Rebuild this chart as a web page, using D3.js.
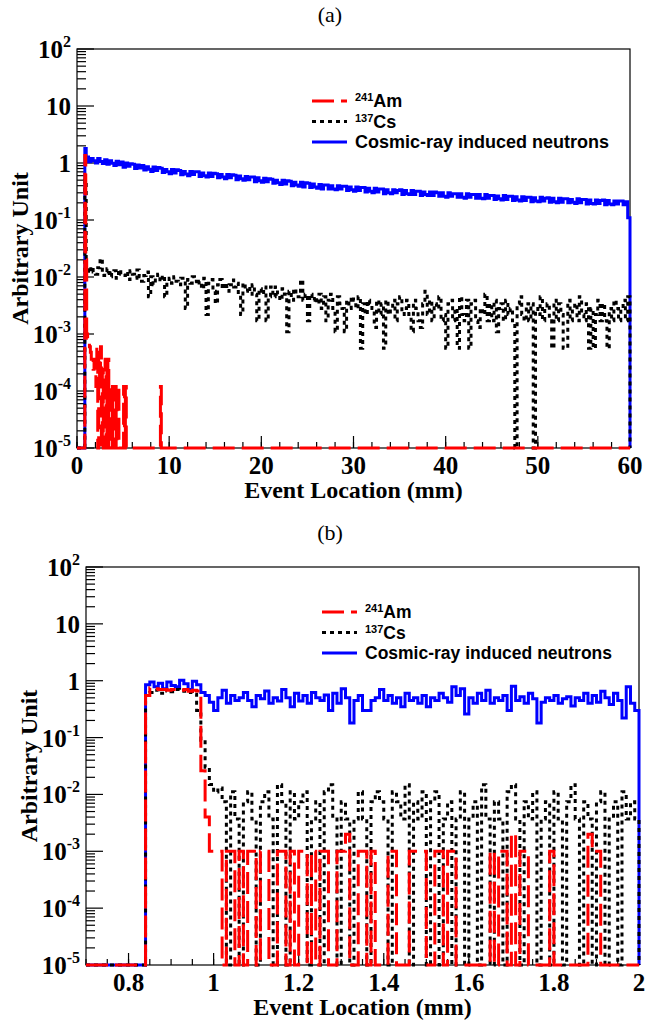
<!DOCTYPE html>
<html><head><meta charset="utf-8">
<script src="https://cdn.jsdelivr.net/npm/d3@7"></script>
<style>body{margin:0;background:#fff}svg{display:block}</style>
</head><body>
<svg id="chart" width="658" height="1021"></svg>
<script>
// ---------------- DATA ----------------
// Panel (a): 0 - 60 mm
const topBlueEdges = [0.85].concat(d3.range(1, 60.0001, 0.25));
const topBlueVals = [1.8,
 1.27,1.05,1.2,1.1, 1.0,1.2,1.06,0.98, 1.14,0.95,1.1,0.99, 0.9,1.07,0.93,1.04,
 0.84,1.0,0.88,0.97, 0.95,0.8,0.92,0.82, 0.9,0.75,0.86,0.78, 0.71,0.85,0.74,0.83,
 0.81,0.68,0.77,0.7, 0.65,0.77,0.67,0.76, 0.74,0.62,0.71,0.64, 0.6,0.71,0.63,0.7,
 0.7,0.58,0.67,0.6, 0.57,0.67,0.58,0.66, 0.65,0.55,0.63,0.57, 0.53,0.63,0.55,0.62,
 0.61,0.51,0.59,0.53, 0.5,0.58,0.51,0.57, 0.57,0.47,0.55,0.49, 0.46,0.54,0.47,0.53,
 0.52,0.44,0.5,0.45, 0.42,0.5,0.43,0.49, 0.48,0.4,0.46,0.41, 0.39,0.46,0.38,0.45,
 0.44,0.37,0.43,0.38, 0.36,0.42,0.35,0.41, 0.41,0.35,0.4,0.35, 0.34,0.4,0.35,0.39,
 0.39,0.33,0.38,0.34, 0.32,0.38,0.33,0.37, 0.37,0.31,0.36,0.32, 0.3,0.36,0.31,0.35,
 0.35,0.29,0.34,0.3, 0.29,0.34,0.3,0.33, 0.34,0.28,0.33,0.29, 0.28,0.33,0.28,0.32,
 0.32,0.27,0.31,0.28, 0.27,0.31,0.27,0.31, 0.3,0.26,0.3,0.26, 0.25,0.3,0.26,0.29,
 0.29,0.25,0.29,0.25, 0.24,0.29,0.25,0.28, 0.28,0.24,0.28,0.24, 0.235,0.28,0.24,0.27,
 0.27,0.23,0.265,0.235, 0.225,0.27,0.23,0.26, 0.26,0.22,0.255,0.225, 0.215,0.255,0.22,0.25,
 0.25,0.21,0.245,0.215, 0.21,0.25,0.215,0.24, 0.245,0.205,0.24,0.21, 0.2,0.24,0.205,0.235,
 0.235,0.2,0.23,0.205, 0.195,0.235,0.2,0.23, 0.23,0.19,0.225,0.195, 0.19,0.225,0.195,0.22,
 0.225,0.185,0.22,0.19, 0.185,0.215,0.19,0.215, 0.215,0.185,0.21,0.11];

const topBlackEdges = [0.85].concat(d3.range(1, 60.0001, 0.25));
const topBlackVals = [0.5,
 13.4e-3,11.8e-3,15.1e-3,12.3e-3,  11.2e-3,14.6e-3,21.0e-3,10.6e-3,
 12.3e-3,14.0e-3,10.1e-3,11.8e-3,  12.9e-3,9.5e-3,13.4e-3,11.2e-3,
 10.6e-3,12.3e-3,9.0e-3,12.9e-3,   11.2e-3,9.5e-3,13.3e-3,10.1e-3,
 8.4e-3,10.6e-3,12.3e-3,4.5e-3,    10.1e-3,7.3e-3,9.5e-3,11.2e-3,
 8.4e-3,10.6e-3,4.5e-3,9.0e-3,     9.5e-3,7.8e-3,10.1e-3,8.4e-3,
 7.3e-3,9.5e-3,8.4e-3,2.8e-3,      9.0e-3,7.8e-3,10.1e-3,8.4e-3,
 7.3e-3,8.4e-3,6.2e-3,9.5e-3,      2.2e-3,7.8e-3,9.0e-3,5.6e-3,
 3.4e-3,7.3e-3,9.0e-3,6.2e-3,      7.8e-3,5.6e-3,7.3e-3,8.9e-3,
 6.7e-3,7.8e-3,5.0e-3,2.2e-3,      7.8e-3,5.6e-3,6.7e-3,5.0e-3,
 7.3e-3,5.0e-3,1.7e-3,6.2e-3,      5.0e-3,6.7e-3,1.7e-3,4.5e-3,
 6.7e-3,4.5e-3,6.7e-3,5.0e-3,      3.9e-3,6.2e-3,5.0e-3,1.1e-3,
 5.6e-3,3.9e-3,6.2e-3,4.5e-3,      4.5e-3,8.9e-3,3.9e-3,5.0e-3,
 1.7e-3,5.0e-3,3.9e-3,4.5e-3,      3.4e-3,5.0e-3,2.8e-3,4.5e-3,
 1.7e-3,3.9e-3,5.0e-3,2.8e-3,      1.1e-3,4.5e-3,3.4e-3,2.8e-3,
 1.1e-3,3.9e-3,2.8e-3,4.5e-3,      3.9e-3,2.8e-3,4.5e-3,0.56e-3,
 3.4e-3,2.2e-3,3.9e-3,3.4e-3,      2.8e-3,1.3e-3,3.9e-3,2.2e-3,
 3.4e-3,0.56e-3,3.9e-3,2.2e-3,     2.8e-3,3.9e-3,1.7e-3,3.4e-3,
 4.5e-3,2.2e-3,2.8e-3,3.9e-3,      2.2e-3,1.1e-3,3.9e-3,2.8e-3,
 1.7e-3,1.3e-3,3.4e-3,5.6e-3,      2.2e-3,3.9e-3,1.7e-3,3.4e-3,
 2.8e-3,4.5e-3,1.7e-3,2.2e-3,      0.56e-3,3.4e-3,3.9e-3,1.7e-3,
 2.8e-3,0.56e-3,4.5e-3,2.2e-3,     1.7e-3,3.9e-3,0.56e-3,3.4e-3,
 3.9e-3,1.7e-3,1.3e-3,2.8e-3,      2.2e-3,5.0e-3,1.7e-3,3.4e-3,
 1.7e-3,3.9e-3,1.1e-3,2.8e-3,      3.4e-3,1.7e-3,3.9e-3,2.2e-3,
 2.8e-3,1.7e-3,0,3.4e-3,           4.5e-3,2.2e-3,1.7e-3,3.4e-3,
 1.7e-3,3.4e-3,0,2.8e-3,           2.2e-3,4.5e-3,1.7e-3,2.8e-3,
 3.4e-3,1.7e-3,0.56e-3,3.9e-3,     1.7e-3,3.4e-3,2.2e-3,0.56e-3,
 0.56e-3,3.9e-3,1.7e-3,2.8e-3,     3.4e-3,1.7e-3,4.5e-3,2.2e-3,
 1.7e-3,3.4e-3,0.56e-3,2.8e-3,     0.56e-3,2.2e-3,3.9e-3,1.7e-3,
 3.4e-3,1.7e-3,0.56e-3,2.8e-3,     1.7e-3,3.9e-3,2.8e-3,1.7e-3,
 2.8e-3,3.9e-3,1.7e-3,4.5e-3];

const topRedEdges = d3.range(0.85, 9.2, 0.1);
const topRedVals = [1.35,0.02,1.0e-3,8.4e-4,7.2e-4,6.0e-4,4.8e-4,3.6e-4,3.6e-4,2.4e-4,
 3.6e-4,2.4e-4,1.2e-4,6.0e-4,0,4.8e-4,1.2e-4,6.0e-4,0,2.4e-4,
 0,1.2e-4,3.6e-4,0,2.4e-4,3.6e-4,0,1.2e-4,1.2e-4,0,
 1.2e-4,0,1.2e-4,1.2e-4,0,1.2e-4,1.2e-4,0,0,0,
 0,0,1.2e-4,0,1.2e-4,0,0,0,0,0,
 0,0,0,0,0,0,0,0,0,0,
 0,0,0,0,0,0,0,0,0,0,
 0,0,0,0,0,0,0,0,0,0,
 0,0,1.2e-4];

// Panel (b): 0.7 - 2 mm, 0.01 mm bins from 0.84
const botEdges = d3.range(0.84, 2.0001, 0.01);
const botBlueVals = [0.85,0.95,0.78,0.9,0.72,0.95,0.82,0.78,1.02,0.88,0.7,0.98,0.85,0.62,
 0.55,0.42,0.3,0.5,0.68,0.4,0.55,0.45,0.5,0.62,
 0.45,0.35,0.55,0.48,0.66,0.4,0.5,0.44,0.7,0.5,
 0.35,0.6,0.44,0.55,0.4,0.62,0.5,0.45,0.56,0.3,
 0.6,0.4,0.72,0.5,0.18,0.45,0.55,0.3,0.3,0.45,
 0.5,0.7,0.45,0.55,0.4,0.5,0.35,0.6,0.45,0.5,
 0.4,0.55,0.35,0.5,0.45,0.6,0.5,0.42,0.78,0.55,
 0.72,0.26,0.5,0.4,0.6,0.45,0.68,0.4,0.5,0.45,
 0.55,0.3,0.8,0.45,0.52,0.4,0.6,0.48,0.18,0.42,
 0.5,0.45,0.55,0.4,0.48,0.52,0.36,0.5,0.45,0.6,
 0.4,0.55,0.42,0.65,0.5,0.38,0.6,0.45,0.22,0.78,
 0.4,0.3];
const botRedVals = [0.55,0.75,0.72,0.7,0.7,0.68,0.7,0.7,0.68,0.7,0.65,0.68,0.66,0.026,0.004,0.001,
 1e-3,1e-3,0,1e-3,1e-3,0,1e-3,0,1e-3,1e-3,
 0,1e-3,1e-3,0,0,1e-3,1e-3,0,1e-3,0,
 1e-3,1e-3,0,1e-3,0,1e-3,1e-3,0,0,1e-3,
 1e-3,2e-3,0,0,1e-3,1e-3,0,1e-3,0,0,
 0,1e-3,1e-3,0,0,0,1e-3,1e-3,1e-3,1e-3,
 0,0,1e-3,1e-3,0,1e-3,1e-3,0,0,0,
 0,0,0,0,0,1e-3,0,1e-3,1e-3,0,
 2e-3,0,1e-3,1e-3,0,0,0,0,0,1e-3,
 0,0,0,0,0,0,0,0,2e-3,1e-3,
 1e-3,0,0,0,0,0,0,0,0,0];
const botBlackVals = [0.55,0.62,0.68,0.6,0.7,0.66,0.64,0.7,0.68,0.65,0.62,0.58,0.3,0.09,0.03,0.015,
 0.011,0.013,0.0074,0,0.0111,0.0037,0,0.0074,0.0111,0.0037,
 0,0.0074,0.0111,0.0037,0,0.0148,0.0074,0,0.0111,0.0037,
 0.0074,0.0111,0,0.0037,0.0074,0,0.0111,0.0148,0.0037,0,
 0.0074,0.0037,0,0.0037,0.0111,0.0037,0,0.0074,0.0111,0.0074,
 0.0037,0,0.0111,0.0074,0.0037,0.0148,0,0.0074,0.0037,0.0111,
 0,0.0074,0.0111,0,0.0037,0.0074,0,0.0037,0.0111,0,
 0.0037,0.0074,0,0.0148,0.0037,0,0.0074,0.0037,0,0.0111,
 0.0148,0.0037,0,0.0074,0.0037,0.0111,0,0.0037,0.0074,0,
 0.0111,0.0037,0,0.0074,0.0148,0.0037,0,0.0074,0.0037,0,
 0.0074,0.0111,0,0.0037,0.0074,0,0.0111,0.0037,0.0074,0.0037];

// Ticks
const yMajor = [1e-5,1e-4,1e-3,1e-2,1e-1,1,10,100];
const yLabels = [["10","-5"],["10","-4"],["10","-3"],["10","-2"],["10","-1"],["1",""],["10",""],["10","2"]];
const topXMajor = [0,10,20,30,40,50,60];
const topXLabels = ["0","10","20","30","40","50","60"];
const botXMajor = [0.8,1,1.2,1.4,1.6,1.8,2];
const botXLabels = ["0.8","1","1.2","1.4","1.6","1.8","2"];
const legendNames = [["241","Am"],["137","Cs"],["","Cosmic-ray induced neutrons"]];

// ---------------- DRAW ----------------
const svg = d3.select("#chart");
const RED="#ff0000", BLUE="#0000ff", BLACK="#000000";
const serif = "'Liberation Serif','DejaVu Serif',serif";
const sans = "'Liberation Sans',Arial,sans-serif";

function panel(cfg){
  const g = svg.append("g");
  const x = d3.scaleLinear().domain(cfg.xDomain).range([cfg.left, cfg.right]);
  const y = d3.scaleLog().domain([1e-5,100]).range([cfg.bottom, cfg.top]);
  const floor = 1e-5;
  function hist(edges, vals){
    const pts = [[x(cfg.xDomain[0]), y(floor)], [x(edges[0]), y(floor)]];
    vals.forEach((v,i)=>{
      const yy = y(Math.max(v, floor));
      pts.push([x(edges[i]), yy]); pts.push([x(edges[i+1]), yy]);
    });
    pts.push([x(edges[vals.length]), y(floor)]);
    pts.push([x(cfg.xDomain[1]), y(floor)]);
    return d3.line()(pts);
  }
  g.append("rect").attr("x",cfg.left).attr("y",cfg.top).attr("width",cfg.right-cfg.left)
   .attr("height",cfg.bottom-cfg.top).attr("fill","none").attr("stroke","#000").attr("stroke-width",1.2);
  yMajor.forEach((v,i)=>{
    g.append("line").attr("x1",cfg.left).attr("x2",cfg.left+17).attr("y1",y(v)).attr("y2",y(v)).attr("stroke","#000").attr("stroke-width",1.2);
    if(i<yMajor.length-1){
      for(let k=2;k<=9;k++){
        const yy=y(v*k);
        g.append("line").attr("x1",cfg.left).attr("x2",cfg.left+9).attr("y1",yy).attr("y2",yy).attr("stroke","#000").attr("stroke-width",1.2);
      }
    }
    const t = g.append("text").attr("x",cfg.left-6).attr("y",y(v)+9).attr("text-anchor","end")
      .attr("font-family",serif).attr("font-weight","bold").attr("font-size",25);
    t.append("tspan").text(yLabels[i][0]);
    if(yLabels[i][1]) t.append("tspan").attr("dy",-11).attr("font-size",16).text(yLabels[i][1]);
  });
  d3.range(cfg.xDomain[0], cfg.xDomain[1]+cfg.minorStep/2, cfg.minorStep).forEach(v=>{
    g.append("line").attr("x1",x(v)).attr("x2",x(v)).attr("y1",cfg.bottom).attr("y2",cfg.bottom-6).attr("stroke","#000").attr("stroke-width",1.2);
  });
  cfg.xMajor.forEach((v,i)=>{
    g.append("line").attr("x1",x(v)).attr("x2",x(v)).attr("y1",cfg.bottom).attr("y2",cfg.bottom-12).attr("stroke","#000").attr("stroke-width",1.2);
    g.append("text").attr("x",x(v)).attr("y",cfg.bottom+26).attr("text-anchor","middle")
      .attr("font-family",serif).attr("font-weight","bold").attr("font-size",25).text(cfg.xLabels[i]);
  });
  g.append("text").attr("x",(cfg.left+cfg.right)/2).attr("y",cfg.bottom+50).attr("text-anchor","middle")
   .attr("font-family",serif).attr("font-weight","bold").attr("font-size",24).text("Event Location (mm)");
  g.append("text").attr("transform",`translate(${cfg.left-49},${(cfg.top+cfg.bottom)/2}) rotate(-90)`)
   .attr("text-anchor","middle").attr("font-family",serif).attr("font-weight","bold").attr("font-size",24).text("Arbitrary Unit");
  svg.append("text").attr("x",330).attr("y",cfg.top-27).attr("text-anchor","middle")
   .attr("font-family",serif).attr("font-size",22).text(cfg.title);
  const lw=3;
  g.append("path").attr("d",hist(cfg.blue[0],cfg.blue[1])).attr("fill","none").attr("stroke",BLUE).attr("stroke-width",lw);
  g.append("path").attr("d",hist(cfg.black[0],cfg.black[1])).attr("fill","none").attr("stroke",BLACK).attr("stroke-width",lw).attr("stroke-dasharray","4,4");
  g.append("path").attr("d",hist(cfg.red[0],cfg.red[1])).attr("fill","none").attr("stroke",RED).attr("stroke-width",lw).attr("stroke-dasharray","22,7");
  const styles=[[RED,"22,7"],[BLACK,"4,4"],[BLUE,null]];
  legendNames.forEach((n,i)=>{
    const ly = cfg.legY + i*20.5;
    const l = g.append("line").attr("x1",cfg.legX).attr("x2",cfg.legX+35).attr("y1",ly).attr("y2",ly)
      .attr("stroke",styles[i][0]).attr("stroke-width",lw);
    if(styles[i][1]) l.attr("stroke-dasharray",styles[i][1]);
    const t = g.append("text").attr("x",cfg.legX+43).attr("y",ly+6).attr("font-family",sans).attr("font-weight","bold").attr("font-size",cfg.legFont);
    if(n[0]){ t.append("tspan").attr("font-size",11).attr("dy",-6).text(n[0]); t.append("tspan").attr("dy",6).text(n[1]); }
    else t.append("tspan").text(n[1]);
  });
}

panel({title:"(a)", left:77,right:630,top:49,bottom:448, xDomain:[0,60], minorStep:2,
  xMajor:topXMajor, xLabels:topXLabels,
  blue:[topBlueEdges,topBlueVals], black:[topBlackEdges,topBlackVals], red:[topRedEdges,topRedVals],
  legX:312, legY:101, legFont:18});
panel({title:"(b)", left:86,right:639,top:567,bottom:965, xDomain:[0.7,2], minorStep:0.05,
  xMajor:botXMajor, xLabels:botXLabels,
  blue:[botEdges,botBlueVals], black:[botEdges,botBlackVals], red:[botEdges,botRedVals],
  legX:322, legY:612, legFont:17.5});
</script></body></html>
